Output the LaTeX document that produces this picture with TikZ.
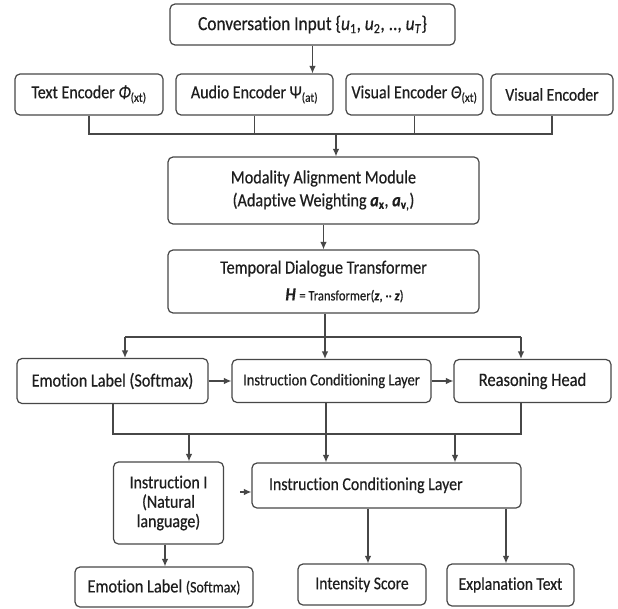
\documentclass[tikz,border=0pt]{standalone}
\usepackage{fontspec}
\setmainfont{Carlito}[FakeStretch=0.87, FakeBold=0.5, Ligatures=NoCommon]
\usetikzlibrary{arrows.meta}
\definecolor{lncol}{HTML}{474747}
\definecolor{txcol}{HTML}{1E1E1E}
\newcommand\fz[2]{\fontsize{#1}{#2}\selectfont}
\newcommand\mi[1]{\textit{#1}}
\newcommand\bi[1]{\textbf{\textit{#1}}}
\newcommand\sbs[1]{\textsubscript{#1}}
\tikzset{
  box/.style={draw=lncol, line width=1.2bp, rounded corners=5bp, fill=white, text=txcol, inner sep=0pt, align=center},
  wire/.style={draw=lncol, line width=1.2bp},
  arr/.style={wire, -{Latex[length=7.5bp,width=6.5bp]}},
}
\begin{document}
\begin{tikzpicture}[x=1bp, y=-1bp]
\useasboundingbox[fill=white] (0,0) rectangle (618,609);
% top
\node[box, minimum width=285bp, minimum height=41bp, font=\fz{20}{24}] (top) at (312.5,24.5)
  {Conversation Input \{\mi{u}\sbs{1}, \mi{u}\sbs{2}, .., \mi{u}\sbs{\mi{T}}\}};
% encoders
\node[box, minimum width=148bp, minimum height=41bp, font=\fz{18.5}{22}] (te) at (89,94.5)
  {Text Encoder \mi{Φ}\sbs{(xt)}};
\node[box, minimum width=157bp, minimum height=41bp, font=\fz{18.5}{22}] (ae) at (254.5,94.5)
  {Audio Encoder Ψ\sbs{(at)}};
\node[box, minimum width=137bp, minimum height=41bp, font=\fz{18.5}{22}] (ve1) at (414.5,94.5)
  {Visual Encoder \mi{Θ}\sbs{(xt)}};
\node[box, minimum width=122bp, minimum height=41bp, font=\fz{18}{22}] (ve2) at (552,94.5)
  {Visual Encoder};
% modules
\node[box, minimum width=311bp, minimum height=67bp, font=\fz{18.7}{23}] (mod) at (323.5,190.5)
  {Modality Alignment Module\\(Adaptive Weighting \bi{a}\sbs{\textbf{x}}, \bi{a}\sbs{\textbf{v},})};
\node[box, minimum width=311bp, minimum height=63bp, font=\fz{18.7}{27}] (tdt) at (323.5,281.5)
  {Temporal Dialogue Transformer\\\hspace*{42bp}\bi{H} {\fz{14.5}{27}= Transformer(\bi{z}, ·· \bi{z})}};
% middle row
\node[box, minimum width=191bp, minimum height=45bp, font=\fz{18.7}{22}] (el) at (112.5,381)
  {Emotion Label (Softmax)};
\node[box, minimum width=199bp, minimum height=43bp, font=\fz{16.7}{20}] (icl) at (331.5,381)
  {Instruction Conditioning Layer};
\node[box, minimum width=157bp, minimum height=43bp, font=\fz{19}{22}] (rh) at (532.5,381)
  {Reasoning Head};
% lower row
\node[box, minimum width=110bp, minimum height=82bp, font=\fz{18.4}{19.5}] (ii) at (168.5,503)
  {Instruction I\\(Natural\\language)};
\node[box, minimum width=269bp, minimum height=45bp, font=\fz{18.3}{21}] (icl2) at (386.5,485.5)
  {\raisebox{3.5bp}{\makebox[235bp][l]{Instruction Conditioning Layer}}};
% outputs
\node[box, minimum width=178bp, minimum height=40bp, font=\fz{18.8}{22}] (el2) at (164,587)
  {Emotion Label {\fz{16}{20}(Softmax)}};
\node[box, minimum width=128bp, minimum height=41bp, font=\fz{18}{22}] (is) at (362,584.5)
  {Intensity Score};
\node[box, minimum width=127bp, minimum height=42bp, font=\fz{18}{22}] (et) at (510.5,585)
  {Explanation Text};
% connectors top part
\draw[arr] (top.south) -- (top.south |- ae.north);
\coordinate (b1) at (336,134);
\draw[wire] (te.south) |- (ve2.south |- b1) -- (ve2.south);
\draw[wire] (ae.south) -- (ae.south |- b1);
\draw[wire] (ve1.south) -- (ve1.south |- b1);
\draw[arr] (b1) -- (b1 |- mod.north);
\draw[arr] (mod.south) -- (tdt.north);
% distribution bus
\coordinate (b2) at (325,337);
\coordinate (b2l) at (125,337);
\coordinate (b2r) at (521,337);
\draw[wire] (b2 |- tdt.south) -- (b2);
\draw[wire] (b2l) -- (b2r);
\draw[arr] (b2) -- (b2 |- icl.north);
\draw[arr] (b2l) -- (b2l |- el.north);
\draw[arr] (b2r) -- (b2r |- rh.north);
\draw[arr] (el.east) -- (icl.west);
\draw[arr] (icl.east) -- (rh.west);
% collection bus
\coordinate (b3l) at (113,434);
\coordinate (b3m) at (326,434);
\coordinate (b3r) at (521,434);
\coordinate (d1) at (189,434);
\coordinate (d3) at (455,434);
\draw[wire] (b3l |- el.south) -- (b3l) -- (b3r) -- (b3r |- rh.south);
\draw[arr] (b3m |- icl.south) -- (b3m |- icl2.north);
\draw[arr] (d1) -- (d1 |- ii.north);
\draw[arr] (d3) -- (d3 |- icl2.north);
\draw[arr, shorten <=16bp] (ii.east |- 0,492) -- (icl2.west |- 0,492);
% outputs
\coordinate (o1) at (368,530);
\coordinate (o2) at (506,530);
\coordinate (o3) at (165,555);
\draw[arr] (o1 |- icl2.south) -- (o1 |- is.north);
\draw[arr] (o2 |- icl2.south) -- (o2 |- et.north);
\draw[arr] (o3 |- ii.south) -- (o3 |- el2.north);
\end{tikzpicture}
\end{document}
